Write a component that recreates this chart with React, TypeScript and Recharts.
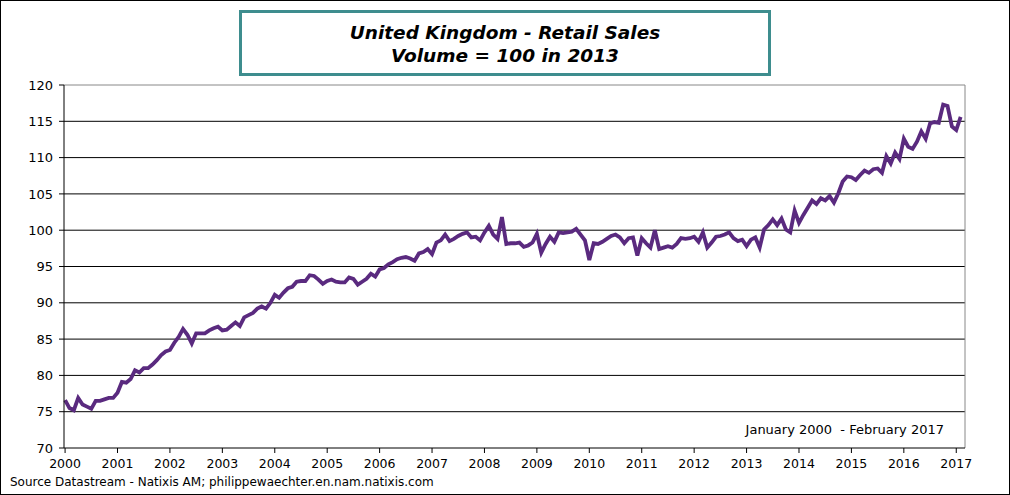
import React from "react";
import {
  LineChart,
  Line,
  XAxis,
  YAxis,
  CartesianGrid,
  ReferenceLine,
} from "recharts";

// UK retail sales volume index (2013 = 100), monthly Jan 2000 .. Feb 2017
const START_YEAR = 2000;
const retailSales = [
  76.6, 75.5, 75.2, 76.9, 76.0, 75.7, 75.4, 76.5, 76.5, 76.7, 76.9, 76.9, // 2000
  77.6, 79.1, 79.0, 79.5, 80.7, 80.4, 81.0, 81.0, 81.5, 82.1, 82.8, 83.3, // 2001
  83.5, 84.5, 85.3, 86.4, 85.6, 84.4, 85.8, 85.8, 85.8, 86.2, 86.5, 86.7, // 2002
  86.2, 86.3, 86.8, 87.3, 86.8, 88.0, 88.3, 88.6, 89.2, 89.5, 89.2, 90.0, // 2003
  91.1, 90.7, 91.4, 92.0, 92.2, 92.9, 93.0, 93.0, 93.8, 93.7, 93.2, 92.6, // 2004
  93.0, 93.2, 92.9, 92.8, 92.8, 93.5, 93.3, 92.5, 92.9, 93.3, 94.0, 93.6, // 2005
  94.6, 94.8, 95.3, 95.6, 96.0, 96.2, 96.3, 96.1, 95.8, 96.8, 97.0, 97.4, // 2006
  96.7, 98.3, 98.6, 99.4, 98.5, 98.8, 99.2, 99.5, 99.7, 99.0, 99.1, 98.6, // 2007
  99.7, 100.6, 99.4, 98.8, 101.8, 98.1, 98.2, 98.2, 98.3, 97.7, 97.9, 98.3, // 2008
  99.5, 96.9, 98.1, 99.1, 98.4, 99.7, 99.6, 99.7, 99.8, 100.2, 99.4, 98.6, // 2009
  95.9, 98.2, 98.1, 98.4, 98.8, 99.2, 99.4, 99.0, 98.2, 98.9, 99.0, 96.5, // 2010
  98.9, 98.2, 97.6, 100.0, 97.4, 97.6, 97.8, 97.6, 98.1, 98.9, 98.8, 98.9, // 2011
  99.1, 98.4, 99.7, 97.6, 98.3, 99.1, 99.2, 99.4, 99.7, 98.9, 98.5, 98.7, // 2012
  97.8, 98.7, 99.0, 97.6, 100.1, 100.7, 101.5, 100.7, 101.6, 100.1, 99.7, 102.7, // 2013
  101.0, 102.1, 103.1, 104.1, 103.6, 104.4, 104.1, 104.7, 103.8, 105.1, 106.7, 107.4, // 2014
  107.3, 106.9, 107.6, 108.2, 107.9, 108.4, 108.5, 107.9, 110.2, 109.2, 110.7, 109.8, // 2015
  112.6, 111.5, 111.2, 112.2, 113.6, 112.6, 114.7, 114.9, 114.8, 117.3, 117.1, 114.3, // 2016
  113.8, 115.6, // 2017
];
const yearTicks = Array.from({ length: 18 }, (_, i) => i * 12);
const valueTicks = [70, 75, 80, 85, 90, 95, 100, 105, 110, 115, 120];
const innerGrid = [75, 80, 85, 90, 95, 100, 105, 110, 115];

const data = retailSales.map((v, k) => ({ k, v }));

const FONT = "'DejaVu Sans', Verdana, sans-serif";

export default function App() {
  return (
    <div
      style={{
        position: "fixed",
        left: 0,
        top: 0,
        width: 1010,
        height: 495,
        background: "#fff",
        border: "1px solid #000",
        boxSizing: "border-box",
        fontFamily: FONT,
      }}
    >
      <div style={{ position: "absolute", left: -1, top: -1 }}>
        <LineChart
          width={1010}
          height={495}
          data={data}
          margin={{ top: 85, right: 45, left: 14, bottom: 17 }}
        >
          <CartesianGrid
            horizontal
            vertical={false}
            stroke="#000"
            strokeOpacity={1}
            horizontalValues={innerGrid}
          />
          <ReferenceLine y={120} stroke="#888" strokeWidth={1} />
          <ReferenceLine x={206} stroke="#888" strokeWidth={1} />
          <XAxis
            dataKey="k"
            type="number"
            domain={[-0.25, 206]}
            ticks={yearTicks}
            interval={0}
            height={30}
            tickSize={5}
            tickMargin={6}
            axisLine={{ stroke: "#000" }}
            tickLine={{ stroke: "#000" }}
            tick={{ fill: "#000", fontSize: 12.5, fontFamily: FONT }}
            tickFormatter={(k) => String(START_YEAR + Math.round(Number(k) / 12))}
          />
          <YAxis
            domain={[70, 120]}
            ticks={valueTicks}
            interval={0}
            width={50}
            tickSize={5}
            tickMargin={6}
            axisLine={{ stroke: "#000" }}
            tickLine={{ stroke: "#000" }}
            tick={{ fill: "#000", fontSize: 13, fontFamily: FONT }}
          />
          <Line
            type="linear"
            dataKey="v"
            stroke="#5A2A7F"
            strokeWidth={3.8}
            dot={false}
            isAnimationActive={false}
          />
        </LineChart>
      </div>

      <div
        style={{
          position: "absolute",
          left: 238,
          top: 9,
          width: 532,
          height: 66,
          border: "3px solid #3E8D8E",
          boxSizing: "border-box",
          textAlign: "center",
          fontWeight: "bold",
          fontStyle: "italic",
          fontSize: 18.5,
          lineHeight: "23px",
          paddingTop: 8,
          color: "#000",
        }}
      >
        <div>United Kingdom - Retail Sales</div>
        <div>Volume = 100 in 2013</div>
      </div>

      <div
        style={{
          position: "absolute",
          right: 65,
          top: 421,
          fontSize: 13,
          color: "#000",
          whiteSpace: "pre",
        }}
      >
        {"January 2000  - February 2017"}
      </div>

      <div
        style={{
          position: "absolute",
          left: 9,
          top: 474,
          fontSize: 12,
          color: "#000",
        }}
      >
        Source Datastream - Natixis AM; philippewaechter.en.nam.natixis.com
      </div>
    </div>
  );
}
